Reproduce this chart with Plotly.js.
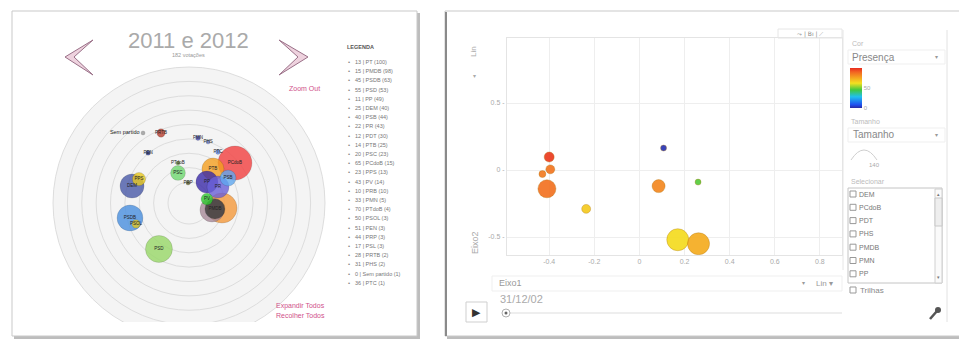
<!DOCTYPE html>
<html><head><meta charset="utf-8">
<script src="https://cdn.plot.ly/plotly-3.0.1.min.js"></script>
<style>html,body{margin:0;padding:0;background:#fff;}#chart{width:959px;height:339px;}</style>
</head><body><div id="chart"></div>
<script>
// ---------- LEFT PANEL DATA (mapa de partidos, 2011 e 2012) ----------
const tituloEsq = '2011 e 2012';
const subtituloEsq = '182 votações';
const partidos = ['PCdoB','PT','PSD','PSDB','PRB','DEM','PMDB','PTB','PP','PR','PSB','PSC','PPS','PV','PRTB','PSOL','PMN','PHS','PEN','PTC','PTdoB','PRP','Sem partido'];
const mapaX = [0.338,0.243,-0.221,-0.434,0.169,-0.419,0.191,0.176,0.132,0.213,0.287,-0.081,-0.368,0.132,-0.206,-0.390,0.066,0.140,-0.301,0.213,-0.081,-0.007,-0.338];
const mapaY = [0.294,-0.037,-0.338,-0.110,-0.051,0.125,-0.044,0.250,0.154,0.118,0.184,0.221,0.176,0.029,0.515,-0.154,0.478,0.449,0.368,0.375,0.294,0.147,0.515];
const peso   = [100,78,63,58,50,50,35,42,42,42,22,19,15,12,6,6,2,1.5,2,2,1.5,1.5,0.5];
const legendaItens = ['13 | PT (100)','15 | PMDB (98)','45 | PSDB (63)','55 | PSD (53)','11 | PP (49)','25 | DEM (40)','40 | PSB (44)','22 | PR (43)','12 | PDT (30)','14 | PTB (25)','20 | PSC (23)','65 | PCdoB (15)','23 | PPS (13)','43 | PV (14)','10 | PRB (10)','33 | PMN (5)','70 | PTdoB (4)','50 | PSOL (3)','51 | PEN (3)','44 | PRP (3)','17 | PSL (3)','28 | PRTB (2)','31 | PHS (2)','0 | Sem partido (1)','36 | PTC (1)'];

// ---------- RIGHT PANEL DATA (Eixo1 x Eixo2, 31/12/02) ----------
const eixo1    = [0.17,0.262,-0.41,0.085,-0.40,-0.395,-0.236,-0.43,0.107,0.26];
const eixo2    = [-0.52,-0.55,-0.14,-0.12,0.097,0.005,-0.29,-0.03,0.164,-0.09];
const tamanho  = [140,140,94,49,29,23,23,14,7,5];
const presenca = [63,74,87,82,97,86,67,85,2,47];
const xTicks = [-0.4,-0.2,0,0.2,0.4,0.6,0.8];
const yTicks = [-0.5,0,0.5];
const selecionar = ['DEM','PCdoB','PDT','PHS','PMDB','PMN','PP'];
const dataFrame = '31/12/02';

// ---------- styles ----------
const coresPartidos = ['#f24040','#f59a3c','#98d868','#4a90e0','#a88a9a','#4a5aa8','#3a3a3a','#f5a020','#3a2aa8','#6a60d8','#60a8f0','#70d870','#e8c820','#30c830','#b84030','#e0c828','#4a50c0','#7080d0','#2c3a90','#5a80e0','#6a9040','#6a6a30','#999999'];
const semRotulo = ['PT','PRB']; // hidden under other bubbles in the reference
const W=959,H=339;
const X=p=>p/W, Y=p=>1-p/H;
const FONT='Liberation Sans, Arial, sans-serif';
const pink='#d0508a';

const escala=[[0,'#2a2aa0'],[0.08,'#2050f0'],[0.28,'#20c0f0'],[0.45,'#40c840'],[0.62,'#f5e020'],[0.78,'#f59a20'],[0.9,'#f26422'],[1,'#e82a1e']];

const traces=[
 {type:'scatter',mode:'markers+text',x:mapaX,y:mapaY,xaxis:'x2',yaxis:'y2',text:partidos.map(p=>semRotulo.includes(p)?'':p),
  textposition:partidos.map(p=>p==='Sem partido'?'middle left':'middle center'),
  textfont:{family:FONT,size:partidos.map(p=>p==='Sem partido'?5.5:4.5),color:'#222'},
  marker:{size:peso,sizemode:'area',sizeref:2*100/(34*34),sizemin:2,color:coresPartidos,opacity:0.8,
          line:{width:1,color:'rgba(0,0,0,0.15)'}},
  hoverinfo:'skip',cliponaxis:false,showlegend:false},
 {type:'scatter',mode:'markers',x:eixo1,y:eixo2,xaxis:'x',yaxis:'y',
  marker:{size:tamanho,sizemode:'area',sizeref:2*140/(22*22),sizemin:3,color:presenca,cmin:0,cmax:100,
          colorscale:escala,opacity:0.92,line:{width:1,color:'rgba(170,110,0,0.35)'},showscale:true,
          colorbar:{thickness:12,len:40,lenmode:'pixels',x:X(850),xanchor:'left',y:Y(88),yanchor:'middle',
                    tickvals:[0,50],ticktext:['0','50'],ticks:'',tickfont:{family:FONT,size:6,color:'#aaa'},
                    outlinewidth:0,xpad:0,ypad:0}},
  hoverinfo:'skip',showlegend:false}
];

const shapes=[];
const rect=(x0,y0,x1,y1,fill,line,lw,layer)=>shapes.push({type:'rect',xref:'paper',yref:'paper',x0:X(x0),x1:X(x1),y0:Y(y1),y1:Y(y0),fillcolor:fill||'rgba(0,0,0,0)',line:{color:line||'rgba(0,0,0,0)',width:lw===undefined?1:lw},layer:layer||'above'});
const seg=(x0,y0,x1,y1,c,w)=>shapes.push({type:'line',xref:'paper',yref:'paper',x0:X(x0),x1:X(x1),y0:Y(y0),y1:Y(y1),line:{color:c,width:w||1}});
const path=(pts,fill,line,lw)=>shapes.push({type:'path',xref:'paper',yref:'paper',path:pts,fillcolor:fill,line:{color:line,width:lw||1}});
const P=(x,y)=>X(x).toFixed(5)+','+Y(y).toFixed(5);

// cards
rect(14,13,420,339,'#bdbdbd',null,0,'below');
rect(12,11,417,336,'#ffffff','#c9c9c9',1,'below');
rect(447,13,964,339,'#bdbdbd',null,0,'below');
rect(445,11,962,336,'#ffffff','#c9c9c9',1,'below');
seg(446,12,446,336,'#8a8a8a',2);

// concentric rings
for(let k=8;k>=0;k--){const r=(21+14.375*k)/136;
 shapes.push({type:'circle',xref:'x2',yref:'y2',x0:-r,x1:r,y0:-r,y1:r,fillcolor:'#f4f4f4',line:{color:'#dddddd',width:1},layer:'below'});}

// chevrons
path('M'+P(93,40)+' L'+P(65,57)+' L'+P(93,75)+' L'+P(74,57)+' Z','#eed2de','#9a7088',1);
path('M'+P(279,40)+' L'+P(308,57)+' L'+P(279,75)+' L'+P(298,57)+' Z','#eed2de','#9a7088',1);

// right panel UI
rect(778,29,842,38,null,'#e6e6e6',1);
seg(843,30,843,270,'#e6e6e6',1);
seg(947,30,947,322,'#e2e2e2',1);
rect(492,276,842,291,null,'#efefef',1);
rect(848,50,945,64,null,'#efefef',1);
rect(848,128,945,142,null,'#efefef',1);
path('M'+P(851,160)+' Q'+P(864,140)+' '+P(877,160),'rgba(0,0,0,0)','#cfcfcf',1);
rect(848,188,942,283,null,'#c4c4c4',1);
rect(935,189,942,283,'#fafafa','#d0d0d0',1);
rect(935,198,942,226,'#eeeeee','#c8c8c8',1);
selecionar.forEach((s,i)=>{const y=194+i*13.3; rect(850,y-3,856,y+3,'#fff','#999',1);});
rect(850,287,856,293,'#fff','#999',1);
rect(466,302,487,322,'#fff','#cfcfcf',1);
seg(506,313,842,313,'#dddddd',1);
shapes.push({type:'circle',xref:'paper',yref:'paper',x0:X(502),x1:X(510),y0:Y(317),y1:Y(309),fillcolor:'#fff',line:{color:'#b0b0b0',width:1}});
shapes.push({type:'circle',xref:'paper',yref:'paper',x0:X(504.5),x1:X(507.5),y0:Y(314.5),y1:Y(311.5),fillcolor:'#666',line:{width:0}});
seg(930,319,937,311,'#555',2.5);
shapes.push({type:'circle',xref:'paper',yref:'paper',x0:X(935),x1:X(941),y0:Y(313),y1:Y(307),fillcolor:'#555',line:{width:0}});

const ann=[];
const T=(x,y,t,o)=>ann.push(Object.assign({xref:'paper',yref:'paper',x:X(x),y:Y(y),text:t,showarrow:false,xanchor:'left',yanchor:'middle',
  font:{family:FONT,size:7,color:'#888'}},o||{}));

T(188,40,tituloEsq,{xanchor:'center',font:{family:FONT,size:22,color:'#aaaaaa'}});
T(188,55,subtituloEsq,{xanchor:'center',font:{family:FONT,size:5.5,color:'#999'}});
T(322,88,'Zoom Out',{xanchor:'right',font:{family:FONT,size:7,color:pink}});
T(327,306,'Expandir Todos',{xanchor:'right',font:{family:FONT,size:7,color:pink}});
T(327,315,'Recolher Todos',{xanchor:'right',font:{family:FONT,size:7,color:pink}});
T(345,47,'<b>LEGENDA</b>',{font:{family:FONT,size:5.5,color:'#555'}});
legendaItens.forEach((s,i)=>{const y=62+i*9.2;
  T(346,y,'•',{font:{family:FONT,size:6,color:'#888'}});
  T(353,y,s,{font:{family:FONT,size:5.5,color:'#777'}});});

T(474,52,'Lin',{xanchor:'center',textangle:-90,font:{family:FONT,size:8,color:'#aaa'}});
T(474,76,'▾',{xanchor:'center',font:{family:FONT,size:6,color:'#aaa'}});
T(475,243,'Eixo2',{xanchor:'center',textangle:-90,font:{family:FONT,size:9,color:'#aaa'}});
T(497,283,'Eixo1',{font:{family:FONT,size:9,color:'#999'}});
T(803,283,'▾',{xanchor:'center',font:{family:FONT,size:6,color:'#999'}});
T(814,283,'Lin ▾',{font:{family:FONT,size:8,color:'#999'}});
T(498,299,dataFrame,{font:{family:FONT,size:11,color:'#aaa'}});
T(476.5,312,'▶',{xanchor:'center',font:{family:'DejaVu Sans',size:11,color:'#333'}});
T(810,33.5,'⤳ | Bı | ⟋',{xanchor:'center',font:{family:'DejaVu Sans',size:6,color:'#888'}});
T(850,43,'Cor',{font:{family:FONT,size:7,color:'#bbb'}});
T(850,57,'Presença',{font:{family:FONT,size:10,color:'#888'}});
T(936,57,'▾',{xanchor:'center',font:{family:FONT,size:6,color:'#999'}});
T(849,122,'Tamanho',{font:{family:FONT,size:7,color:'#bbb'}});
T(851,135,'Tamanho',{font:{family:FONT,size:10,color:'#888'}});
T(936,135,'▾',{xanchor:'center',font:{family:FONT,size:6,color:'#999'}});
T(874,165,'140',{xanchor:'center',font:{family:FONT,size:6,color:'#aaa'}});
T(849,181,'Selecionar',{font:{family:FONT,size:7,color:'#bbb'}});
selecionar.forEach((s,i)=>T(857,194+i*13.3,s,{font:{family:FONT,size:7,color:'#777'}}));
T(938.5,194,'▴',{xanchor:'center',font:{family:FONT,size:5,color:'#777'}});
T(938.5,277,'▾',{xanchor:'center',font:{family:FONT,size:5,color:'#777'}});
T(858,290,'Trilhas',{font:{family:FONT,size:8,color:'#888'}});

const layout={width:W,height:H,margin:{l:0,r:0,t:0,b:0},paper_bgcolor:'#fff',plot_bgcolor:'rgba(0,0,0,0)',showlegend:false,
 font:{family:FONT},
 xaxis:{domain:[X(507),X(842)],range:[-0.587,0.898],tickvals:xTicks,ticktext:xTicks.map(v=>String(v)),tickfont:{size:7,color:'#aaa'},
        gridcolor:'#eeeeee',zeroline:false,showline:true,mirror:true,linecolor:'#e4e4e4',ticks:'',anchor:'y',fixedrange:true},
 yaxis:{domain:[Y(255),Y(38)],range:[-0.634,0.985],tickvals:yTicks,ticktext:yTicks.map(v=>String(v)+' -'),tickfont:{size:7,color:'#aaa'},
        gridcolor:'#eeeeee',zeroline:false,showline:true,mirror:true,linecolor:'#e4e4e4',ticks:'',anchor:'x',fixedrange:true},
 xaxis2:{domain:[X(48),X(330)],range:[-1.037,1.037],visible:false,anchor:'y2',fixedrange:true},
 yaxis2:{domain:[Y(322),Y(62)],range:[-0.875,1.037],visible:false,anchor:'x2',fixedrange:true},
 shapes:shapes,annotations:ann};

Plotly.newPlot('chart',traces,layout,{displayModeBar:false,staticPlot:true});
</script></body></html>
